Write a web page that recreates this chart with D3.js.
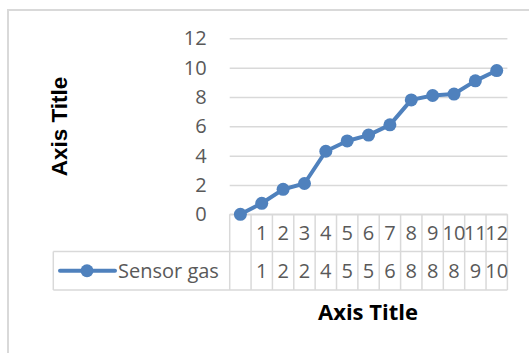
<!DOCTYPE html>
<html>
<head>
<meta charset="utf-8">
<script src="https://cdn.jsdelivr.net/npm/d3@7"></script>
<style>
  html, body { margin: 0; padding: 0; background: #fff; }
  svg { display: block; }
</style>
</head>
<body>
<svg id="chart" width="529" height="353"></svg>
<script>
// Sensor readings per category (first category is unlabeled)
const categories = ["", "1", "2", "3", "4", "5", "6", "7", "8", "9", "10", "11", "12"];
const seriesName = "Sensor gas";
const sensorGas = [0, 0.75, 1.7, 2.1, 4.3, 5.0, 5.4, 6.1, 7.8, 8.1, 8.2, 9.1, 9.8];
const yTicks = [0, 2, 4, 6, 8, 10, 12];
const xTitle = "Axis Title";
const yTitle = "Axis Title";

const blue = "#4f81bd";
const grid = "#d9d9d9";
const textGray = "#595959";
const tickFont = "'Open Sans', 'Noto Sans', sans-serif";
const tickSize = "20px";

const svg = d3.select("#chart");

// chart frame
svg.append("path")
  .attr("d", "M8,353 L8,10 L529,10")
  .attr("fill", "none")
  .attr("stroke", grid)
  .attr("stroke-width", 2);

const plotLeft = 229.7, plotRight = 507.4, plotTop = 38.3, plotBottom = 214.3;
const row1Bottom = 251.5, row2Bottom = 290, legendLeft = 53.3;

const x = d3.scaleBand().domain(d3.range(categories.length)).range([plotLeft, plotRight]).padding(0);
const y = d3.scaleLinear().domain([0, 12]).range([plotBottom, plotTop]);

// horizontal gridlines and value labels
const yAxis = d3.axisLeft(y).tickValues(yTicks).tickSize(-(plotRight - plotLeft)).tickPadding(23);
const gy = svg.append("g").attr("transform", `translate(${plotLeft},0)`).call(yAxis);
gy.select(".domain").remove();
gy.selectAll(".tick line").attr("stroke", grid).attr("stroke-width", 1.5);
gy.selectAll(".tick text")
  .attr("fill", textGray)
  .style("font-family", tickFont)
  .style("font-size", tickSize);

// data table grid
const tbl = svg.append("g").attr("stroke", grid).attr("stroke-width", 1.5).attr("fill", "none");
tbl.append("line").attr("x1", plotLeft).attr("x2", plotRight).attr("y1", plotBottom).attr("y2", plotBottom);
tbl.append("line").attr("x1", legendLeft).attr("x2", plotRight).attr("y1", row1Bottom).attr("y2", row1Bottom);
tbl.append("line").attr("x1", legendLeft).attr("x2", plotRight).attr("y1", row2Bottom).attr("y2", row2Bottom);
tbl.append("line").attr("x1", legendLeft).attr("x2", legendLeft).attr("y1", row1Bottom).attr("y2", row2Bottom);
const bounds = d3.range(categories.length).map(i => x(i)).concat([plotRight]);
tbl.selectAll("line.col").data(bounds).join("line")
  .attr("class", "col")
  .attr("x1", d => d).attr("x2", d => d)
  .attr("y1", plotBottom).attr("y2", row2Bottom);

// category labels row
const fmt = d3.format(".0f");
svg.append("g").selectAll("text").data(categories).join("text")
  .attr("x", (d, i) => x(i) + x.bandwidth() / 2)
  .attr("y", (plotBottom + row1Bottom) / 2)
  .attr("dy", "0.36em")
  .attr("text-anchor", "middle")
  .attr("fill", textGray)
  .style("font-family", tickFont)
  .style("font-size", tickSize)
  .text(d => d);

// value row
svg.append("g").selectAll("text").data(sensorGas).join("text")
  .attr("x", (d, i) => x(i) + x.bandwidth() / 2)
  .attr("y", (row1Bottom + row2Bottom) / 2)
  .attr("dy", "0.36em")
  .attr("text-anchor", "middle")
  .attr("fill", textGray)
  .style("font-family", tickFont)
  .style("font-size", tickSize)
  .text((d, i) => categories[i] === "" ? "" : fmt(d));

// legend key inside the table
const legY = (row1Bottom + row2Bottom) / 2;
svg.append("line").attr("x1", 60).attr("x2", 115).attr("y1", legY).attr("y2", legY)
  .attr("stroke", blue).attr("stroke-width", 4).attr("stroke-linecap", "round");
svg.append("circle").attr("cx", 87).attr("cy", legY).attr("r", 6.5).attr("fill", blue);
svg.append("text").attr("x", 118).attr("y", legY).attr("dy", "0.36em")
  .attr("fill", textGray)
  .style("font-family", tickFont)
  .style("font-size", tickSize)
  .text(seriesName);

// series line and markers
const line = d3.line().x((d, i) => x(i) + x.bandwidth() / 2).y(d => y(d));
svg.append("path").datum(sensorGas)
  .attr("d", line)
  .attr("fill", "none")
  .attr("stroke", blue)
  .attr("stroke-width", 4)
  .attr("stroke-linejoin", "round");
svg.append("g").selectAll("circle").data(sensorGas).join("circle")
  .attr("cx", (d, i) => x(i) + x.bandwidth() / 2)
  .attr("cy", d => y(d))
  .attr("r", 6.5)
  .attr("fill", blue);

// axis titles
svg.append("text")
  .attr("transform", "translate(67,126.5) rotate(-90)")
  .attr("text-anchor", "middle")
  .attr("fill", "#000")
  .style("font-family", "'Liberation Sans', Arial, sans-serif")
  .style("font-weight", "bold")
  .style("font-size", "22.5px")
  .text(yTitle);

svg.append("text")
  .attr("x", 368).attr("y", 312).attr("dy", "0.36em")
  .attr("text-anchor", "middle")
  .attr("fill", "#000")
  .style("font-family", tickFont)
  .style("font-weight", "bold")
  .style("font-size", "22px")
  .text(xTitle);
</script>
</body>
</html>
